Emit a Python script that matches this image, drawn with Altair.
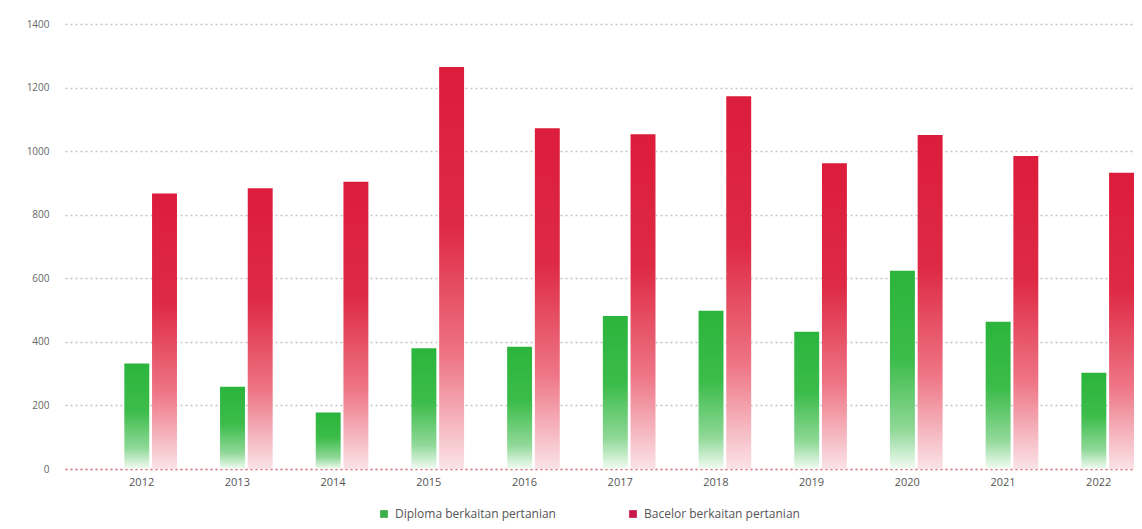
import altair as alt
import pandas as pd

years = ["2012", "2013", "2014", "2015", "2016", "2017", "2018", "2019", "2020", "2021", "2022"]
diploma = [332, 259, 178, 380, 385, 481, 498, 432, 624, 463, 303]
bacelor = [867, 883, 904, 1265, 1072, 1053, 1173, 962, 1051, 985, 932]
series = ["Diploma berkaitan pertanian", "Bacelor berkaitan pertanian"]
legend_colors = ["#3aae48", "#c8194a"]
y_ticks = [0, 200, 400, 600, 800, 1000, 1200, 1400]

rows = []
for yr, d, b in zip(years, diploma, bacelor):
    rows.append({"year": yr, "series": series[0], "value": d})
    rows.append({"year": yr, "series": series[1], "value": b})
df = pd.DataFrame(rows)

FONT = "Open Sans"

green_grad = alt.LinearGradient(
    gradient="linear", x1=0, x2=0, y1=0, y2=1,
    stops=[
        alt.GradientStop(color="#2bb53c", offset=0),
        alt.GradientStop(color="#3cbc4a", offset=0.45),
        alt.GradientStop(color="#8fd897", offset=0.8),
        alt.GradientStop(color="#f2fbf3", offset=1),
    ],
)
red_grad = alt.LinearGradient(
    gradient="linear", x1=0, x2=0, y1=0, y2=1,
    stops=[
        alt.GradientStop(color="#dc1c3b", offset=0),
        alt.GradientStop(color="#de2a45", offset=0.4),
        alt.GradientStop(color="#ee7585", offset=0.72),
        alt.GradientStop(color="#fae3e7", offset=1),
    ],
)

x_enc = alt.X(
    "year:N",
    sort=years,
    title=None,
    scale=alt.Scale(paddingInner=0.45, paddingOuter=0.31, align=1),
    axis=alt.Axis(
        labelAngle=0, ticks=False, labelOffset=-9, labelPadding=7,
        labelColor="#555", labelFontSize=11, labelFont=FONT,
        domain=True, domainColor="#e27483", domainDash=[2, 3], domainWidth=1.5,
        grid=False,
    ),
)
y_enc = alt.Y(
    "value:Q",
    title=None,
    scale=alt.Scale(domain=[0, 1400], nice=False),
    axis=alt.Axis(
        values=y_ticks, format="d", grid=True, gridDash=[2, 3], gridColor="#c4c4c4",
        gridWidth=1.3, domain=False, ticks=False, labelColor="#666",
        labelFontSize=10, labelFont=FONT, labelPadding=16,
    ),
)
xoff = alt.XOffset("series:N", sort=series, scale=alt.Scale(domain=series, paddingInner=0.1))

base = alt.Chart(df)

green_bars = base.transform_filter(alt.datum.series == series[0]).mark_bar(color=green_grad).encode(
    x=x_enc, y=y_enc, xOffset=xoff
)
red_bars = base.transform_filter(alt.datum.series == series[1]).mark_bar(color=red_grad).encode(
    x=x_enc, y=y_enc, xOffset=xoff
)
legend_layer = base.mark_square(opacity=0, size=1).encode(
    x=x_enc,
    y=y_enc,
    color=alt.Color(
        "series:N",
        sort=series,
        scale=alt.Scale(domain=series, range=legend_colors),
        legend=alt.Legend(
            title=None, orient="none", direction="horizontal",
            legendX=313, legendY=484,
            symbolType="square", symbolSize=60, symbolOpacity=1,
            symbolStrokeWidth=0, labelFont=FONT, labelFontSize=12,
            labelColor="#555", columnPadding=71, labelOffset=5, labelLimit=400,
        ),
    ),
)

chart = alt.layer(green_bars, red_bars, legend_layer).properties(
    width=1069,
    height=445,
    autosize=alt.AutoSizeParams(type="none"),
    padding={"left": 57, "top": 16, "right": 0, "bottom": 56},
).configure_view(stroke=None)

chart.save("out.html", embed_options={"renderer": "svg", "actions": False})
